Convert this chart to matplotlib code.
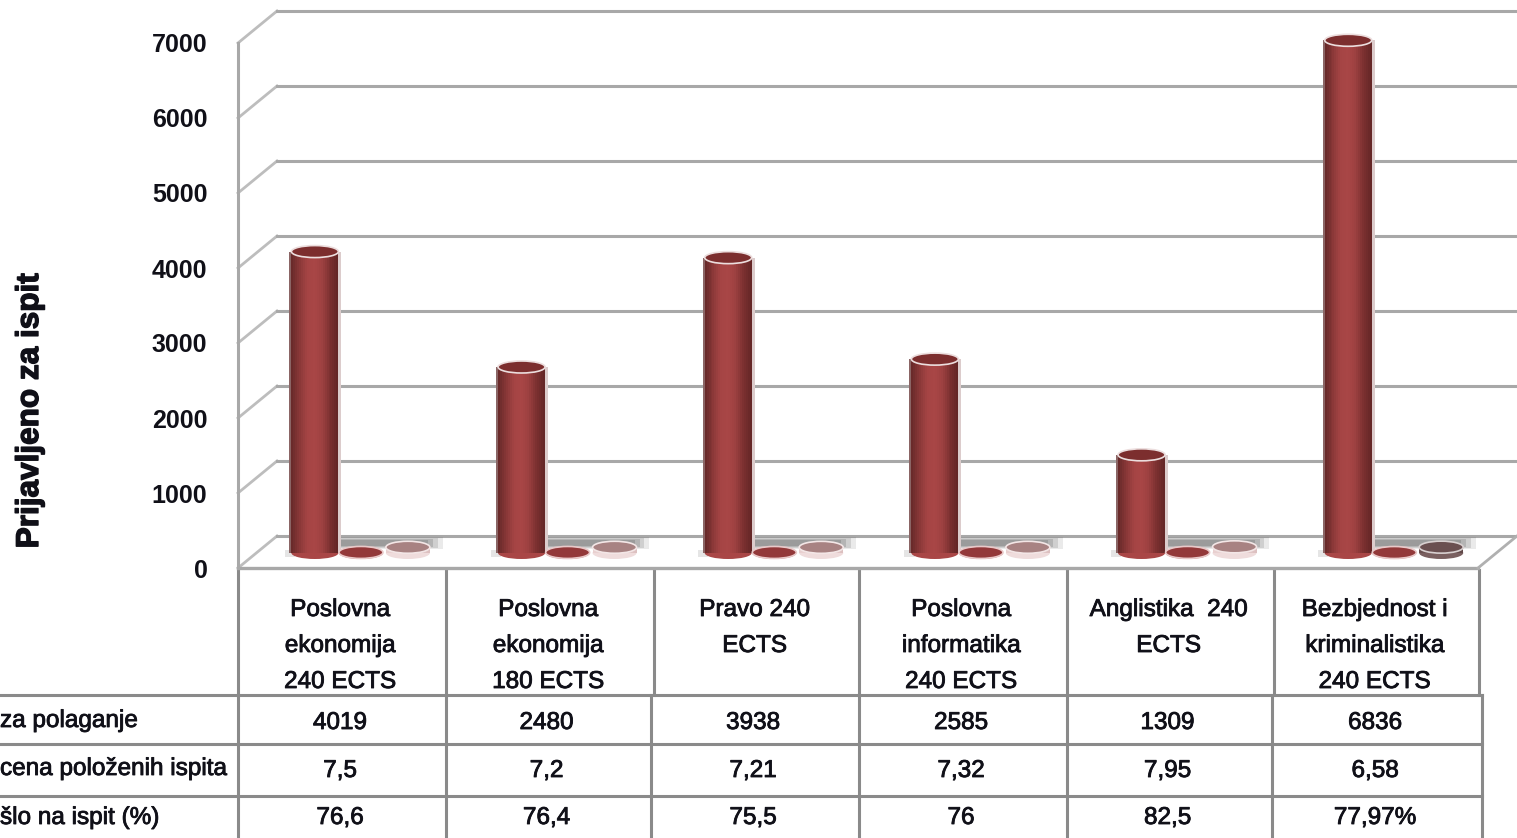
import numpy as np
from matplotlib import pyplot as plt
from matplotlib import patheffects as pe
from matplotlib.colors import LinearSegmentedColormap
from matplotlib.patches import Ellipse

categories = [
    "Poslovna\nekonomija\n240 ECTS",
    "Poslovna\nekonomija\n180 ECTS",
    "Pravo 240\nECTS",
    "Poslovna\ninformatika\n240 ECTS",
    "Anglistika  240\nECTS",
    "Bezbjednost i\nkriminalistika\n240 ECTS",
]
prijavljeno = [4019, 2480, 3938, 2585, 1309, 6836]
ocena = [7.5, 7.2, 7.21, 7.32, 7.95, 6.58]
izaslo = [76.6, 76.4, 75.5, 76, 82.5, 77.97]

row_names = ["za polaganje", "cena položenih ispita", "šlo na ispit (%)"]
row1_text = ["4019", "2480", "3938", "2585", "1309", "6836"]
row2_text = ["7,5", "7,2", "7,21", "7,32", "7,95", "6,58"]
row3_text = ["76,6", "76,4", "75,5", "76", "82,5", "77,97%"]
y_ticks = [0, 1000, 2000, 3000, 4000, 5000, 6000, 7000]

W, H = 1517, 838
CAT_PX = (1478 - 238) / 6
VAL_PX = 525 / 7000
BACK_X = 39 / CAT_PX
BACK_Y = 32 / VAL_PX
BASE = 15 / VAL_PX
GRID = "#a8a8a8"
LINE = "#8a8a8a"
THICK = [pe.withStroke(linewidth=0.6, foreground="#101018")]

plt.rcParams['font.family'] = ['Liberation Sans', 'DejaVu Sans']

fig = plt.figure(figsize=(W / 100, H / 100), dpi=100, facecolor="white")

# table lines and text live on a pixel axes under the chart
tb = fig.add_axes([0, 0, 1, 1])
tb.set_xlim(0, W)
tb.set_ylim(H, 0)
tb.axis("off")

ax = fig.add_axes([238 / W, (H - 568) / H, 1240 / W, 525 / H])
ax.set_xlim(0, 6)
ax.set_ylim(0, 7000)
ax.patch.set_alpha(0)
for s in ax.spines.values():
    s.set_visible(False)
ax.set_xticks([])
ax.set_yticks(y_ticks)
ax.tick_params(axis="y", length=0, pad=22, labelsize=18)
for lab in ax.get_yticklabels():
    lab.set_fontweight("bold")
    lab.set_color("#101018")
ax.set_ylabel("Prijavljeno za ispit", fontsize=22.7, fontweight="bold", labelpad=0,
              color="#101018", path_effects=[pe.withStroke(linewidth=1.0, foreground="#101018")])
ax.yaxis.set_label_coords(-193 / 1240, 0.30)

# walls and gridlines
ax.plot([0, 0], [0, 7000], color=GRID, lw=2.2, clip_on=False, zorder=2)
for t in y_ticks:
    ax.plot([0, BACK_X], [t, t + BACK_Y], color="#bdbdbd", lw=2, clip_on=False, zorder=1)
    ax.plot([BACK_X, 6 + BACK_X], [t + BACK_Y, t + BACK_Y], color=GRID, lw=2.2,
            clip_on=False, zorder=1)
ax.plot([0, 6], [0, 0], color=GRID, lw=2.4, clip_on=False, zorder=2)
ax.plot([6, 6 + BACK_X], [0, BACK_Y], color="#b0b0b0", lw=2, clip_on=False, zorder=2)

body_cmap = LinearSegmentedColormap.from_list(
    "cyl", ["#6a2a2a", "#8a3838", "#a54444", "#a94646", "#9c4040", "#7c3030", "#652727"])
pale_cmap = LinearSegmentedColormap.from_list("pale", ["#e8cfcf", "#efdcdc", "#dcc0c0"])
dark_cmap = LinearSegmentedColormap.from_list("dark", ["#6a5050", "#7a6060", "#604848"])


def cylinder(center, value, width, cmap, cap_color, rim, cap_h=12, zorder=5):
    n = 24
    sw = width / n
    top = BASE + value
    # rounded bottom first, then the strips
    ax.add_patch(Ellipse((center, BASE), width, cap_h / VAL_PX, facecolor=cmap(0.5),
                         edgecolor="none", clip_on=False, zorder=zorder))
    for k in range(n):
        ax.bar(center - width / 2 + (k + 0.5) * sw, value, sw * 1.05, bottom=BASE,
               color=cmap(k / (n - 1)), linewidth=0, clip_on=False, zorder=zorder)
    ax.add_patch(Ellipse((center, top), width, cap_h / VAL_PX, facecolor=cap_color,
                         edgecolor=rim, linewidth=1.2, clip_on=False, zorder=zorder + 1))


w1 = 47 / CAT_PX
w2 = 44 / CAT_PX
for i in range(6):
    # soft floor shadow behind the bars
    for k, a in enumerate([0.12, 0.18, 0.22, 0.26]):
        ax.bar(i + 0.72 - k * 0.006, (12 - 2 * k) / VAL_PX, 0.54 - k * 0.035,
               bottom=(19 + k) / VAL_PX, color="#555555", alpha=a, linewidth=0,
               clip_on=False, zorder=3)
    ax.bar(i + 0.25, 7 / VAL_PX, 0.05, bottom=11 / VAL_PX, color="#999999", alpha=0.25,
           linewidth=0, clip_on=False, zorder=3)
    c1, c2, c3 = i + 0.372, i + 0.595, i + 0.822
    # thin pale edge on the right of the tall bar
    ax.bar(c1 + w1 / 2 + 1.5 / CAT_PX, prijavljeno[i], 3 / CAT_PX, bottom=BASE,
           color="#dccccc", linewidth=0, clip_on=False, zorder=4)
    ax.bar(c1 - w1 / 2 - 1 / CAT_PX, prijavljeno[i], 2 / CAT_PX, bottom=BASE,
           color="#8b6565", linewidth=0, clip_on=False, zorder=4)
    cylinder(c1, prijavljeno[i], w1, body_cmap, "#7c2e2e", "#ecdede")
    cylinder(c2, ocena[i], w2, body_cmap, "#93393a", "#e9c9c9", zorder=6)
    if i == 5:
        cylinder(c3, izaslo[i], w2, dark_cmap, "#6a4f50", "#d8d0d0", zorder=6)
    else:
        cylinder(c3, izaslo[i], w2, pale_cmap, "#a88282", "#f3e6e6", zorder=6)

# table
head_x = [238, 446, 654, 859, 1067, 1274, 1479]
body_x = [238, 446, 651, 859, 1067, 1272, 1482]
for x in head_x:
    tb.plot([x, x], [570, 695], color=LINE, lw=2.2)
for x in body_x:
    tb.plot([x, x], [695, H], color=LINE, lw=2.2)
for y in [695, 744, 796]:
    tb.plot([0, 1482], [y, y], color=LINE, lw=2.2)

txt = dict(color="#101018", fontsize=17.5, ha="center", va="center", path_effects=THICK)
for i, name in enumerate(categories):
    cx = (head_x[i] + head_x[i + 1]) / 2 - 2
    for j, part in enumerate(name.split("\n")):
        tb.text(cx, 610 + 36 * j, part, **txt)
    bx = (body_x[i] + body_x[i + 1]) / 2 - 2
    tb.text(bx, 723, row1_text[i], **txt)
    tb.text(bx, 771, row2_text[i], **txt)
    tb.text(bx, 818, row3_text[i], **txt)
for y, name in zip([721, 769, 818], row_names):
    tb.text(0, y, name, color="#101018", fontsize=17.5, ha="left", va="center",
            path_effects=THICK)

fig.savefig("out.png", dpi=100)
